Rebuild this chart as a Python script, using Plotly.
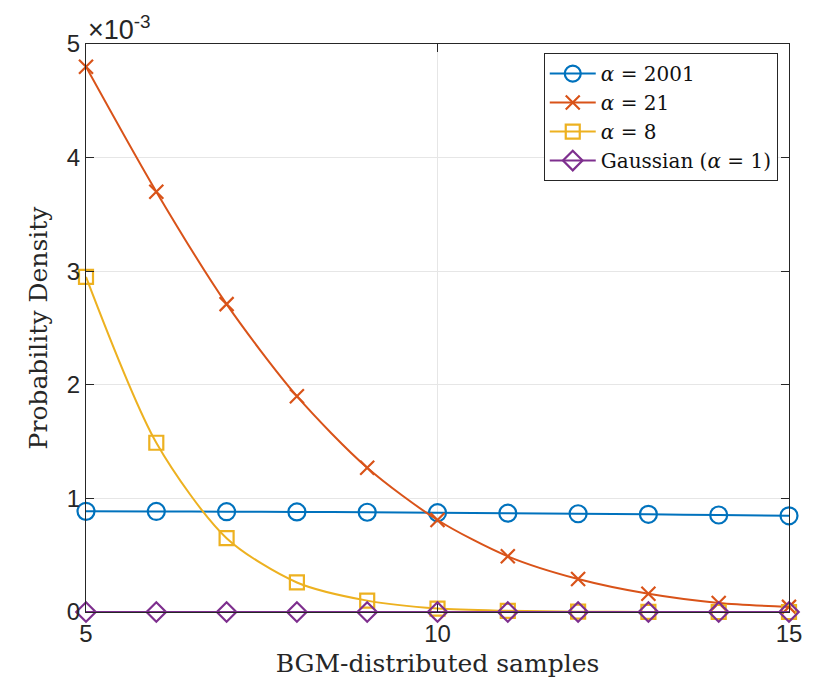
import plotly.graph_objects as go

# sample positions
samples = [5, 6, 7, 8, 9, 10, 11, 12, 13, 14, 15]

# probability density values (units of 1e-3)
pdf_a2001 = [0.886, 0.885, 0.883, 0.881, 0.878, 0.874, 0.870, 0.865, 0.860, 0.854, 0.847]
pdf_a21 = [4.80, 3.70, 2.71, 1.90, 1.27, 0.81, 0.49, 0.29, 0.16, 0.08, 0.045]
pdf_a8 = [2.95, 1.49, 0.65, 0.26, 0.10, 0.03, 0.01, 0.003, 0.001, 0.0, 0.0]
pdf_gauss = [0.0, 0.0, 0.0, 0.0, 0.0, 0.0, 0.0, 0.0, 0.0, 0.0, 0.0]

series_names = ["<i>α</i> = 2001", "<i>α</i> = 21", "<i>α</i> = 8", "Gaussian (<i>α</i> = 1)"]
series_vals = [pdf_a2001, pdf_a21, pdf_a8, pdf_gauss]
series_colors = ["#0072BD", "#D95319", "#EDB120", "#7E2F8E"]
series_symbols = ["circle-open", "x-thin-open", "square-open", "diamond-open"]
series_sizes = [17, 14, 14, 15]

xticks = [5, 10, 15]
yticks = [0, 1, 2, 3, 4, 5]

fig = go.Figure()
for name, vals, col, sym, sz in zip(series_names, series_vals, series_colors, series_symbols, series_sizes):
    fig.add_trace(go.Scatter(
        x=samples, y=vals, name=name, mode="lines+markers",
        line=dict(color=col, width=2, shape="spline", smoothing=0.8),
        marker=dict(symbol=sym, size=sz, color=col, line=dict(color=col, width=2.2)),
        cliponaxis=False,
    ))

axis_col = "#262626"
serif = "DejaVu Serif"
fig.update_layout(
    width=816, height=686,
    margin=dict(l=86, r=27, t=44, b=74),
    paper_bgcolor="white", plot_bgcolor="white",
    showlegend=True,
    legend=dict(
        x=0.984, y=0.984, xanchor="right", yanchor="top",
        bgcolor="white", bordercolor=axis_col, borderwidth=1,
        font=dict(family=serif, size=20, color="#111111"),
        itemwidth=46, tracegroupgap=0,
    ),
    xaxis=dict(
        range=[5, 15], tickvals=xticks, ticktext=[str(v) for v in xticks],
        ticks="inside", ticklen=8, tickcolor=axis_col, tickwidth=1,
        showline=True, linecolor=axis_col, linewidth=1, mirror="ticks",
        showgrid=True, gridcolor="#e6e6e6", gridwidth=1, zeroline=False,
        tickfont=dict(family="Liberation Sans", size=24, color=axis_col),
        title=dict(text="BGM-distributed samples",
                   font=dict(family=serif, size=25, color=axis_col), standoff=8),
    ),
    yaxis=dict(
        range=[0, 5], tickvals=yticks, ticktext=[str(v) for v in yticks],
        ticks="inside", ticklen=8, tickcolor=axis_col, tickwidth=1,
        showline=True, linecolor=axis_col, linewidth=1, mirror="ticks",
        showgrid=True, gridcolor="#e6e6e6", gridwidth=1, zeroline=False,
        tickfont=dict(family="Liberation Sans", size=24, color=axis_col),
        title=dict(text="Probability Density",
                   font=dict(family=serif, size=25, color=axis_col), standoff=12),
    ),
    annotations=[dict(
        text="×10<sup>-3</sup>", xref="paper", yref="paper", x=0.0, y=1.0,
        xanchor="left", yanchor="bottom", showarrow=False, yshift=-3,
        font=dict(family="Liberation Sans", size=27, color=axis_col),
    )],
)

fig.write_html("out.html")
